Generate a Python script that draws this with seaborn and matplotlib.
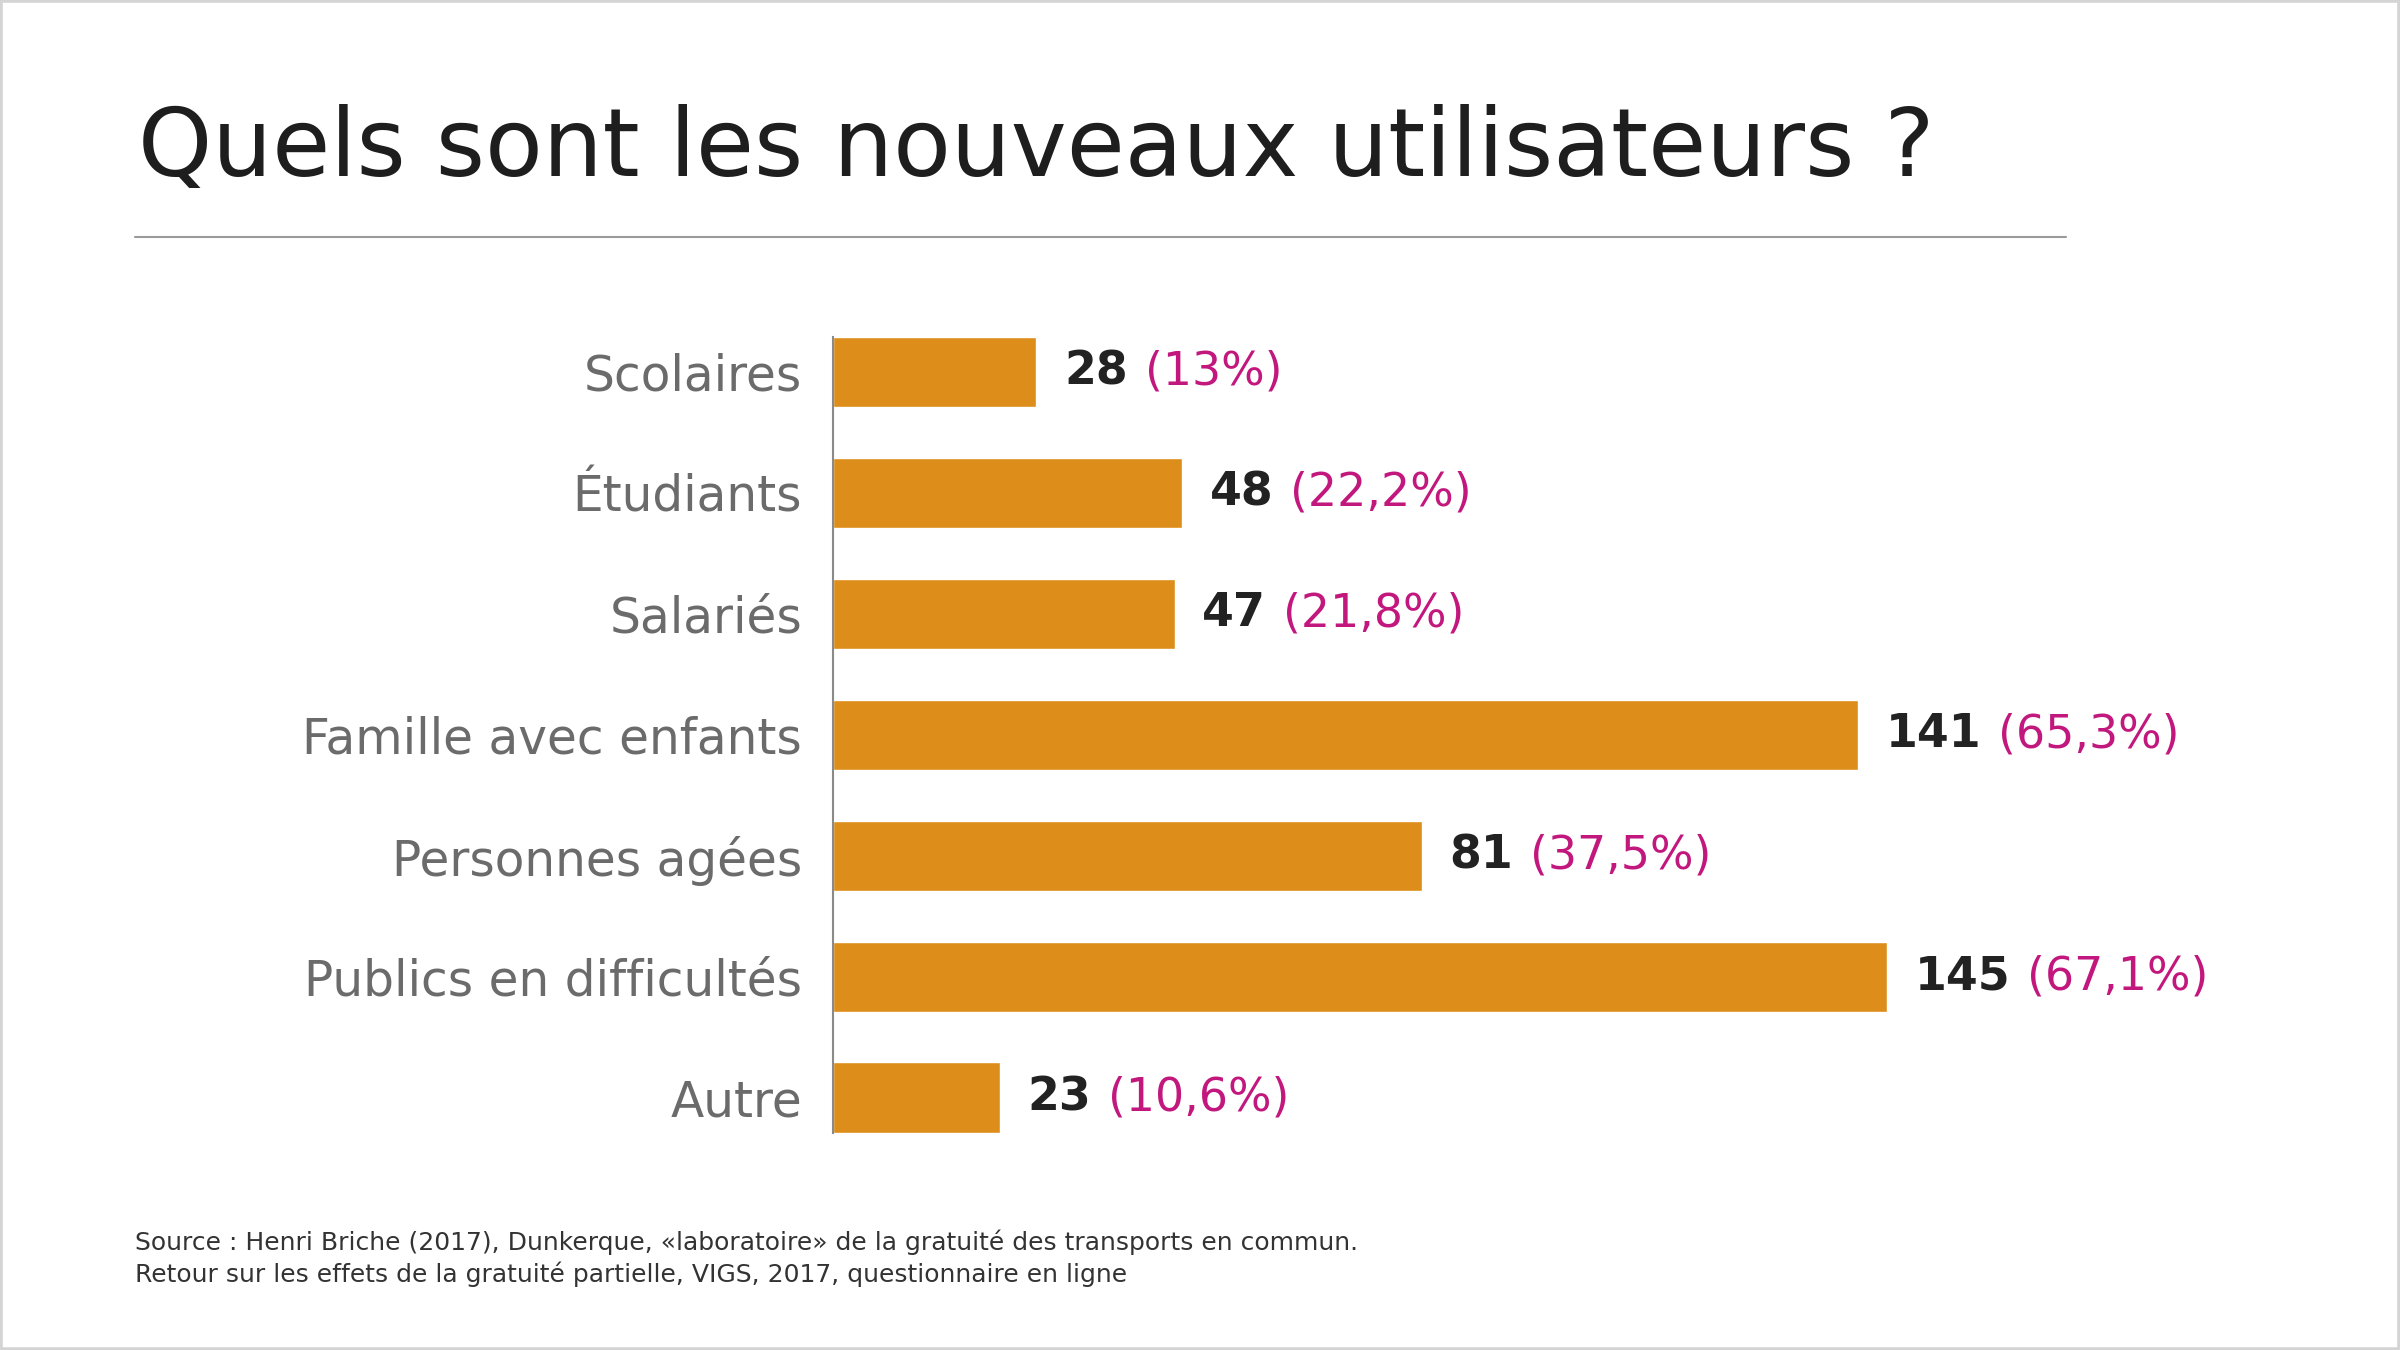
import matplotlib
matplotlib.use('Agg')
import matplotlib.pyplot as plt
import seaborn as sns
from matplotlib.patches import Rectangle
from matplotlib.lines import Line2D

categories = ['Scolaires', 'Étudiants', 'Salariés', 'Famille avec enfants',
              'Personnes agées', 'Publics en difficultés', 'Autre']
counts = [28, 48, 47, 141, 81, 145, 23]
percents = ['13%', '22,2%', '21,8%', '65,3%', '37,5%', '67,1%', '10,6%']

title = 'Quels sont les nouveaux utilisateurs ?'
source = ('Source : Henri Briche (2017), Dunkerque, «laboratoire» de la gratuité des transports en commun.\n'
          'Retour sur les effets de la gratuité partielle, VIGS, 2017, questionnaire en ligne')

sns.set_theme(style='white')
plt.rcParams['font.family'] = ['DejaVu Sans']

fig = plt.figure(figsize=(24, 13.5), dpi=100)
ax = fig.add_axes([0.347, 0.161, 0.606, 0.5896])

sns.barplot(x=counts, y=categories, orient='h', color='#DD8D19',
            saturation=1, width=0.58, ax=ax)

ax.set_xlim(0, 200)
ax.set_ylim(6.29, -0.29)
ax.set_xticks([])
ax.set_xlabel('')
ax.set_ylabel('')
for side in ['top', 'right', 'bottom']:
    ax.spines[side].set_visible(False)
ax.spines['left'].set_color('#8a8a8a')
ax.spines['left'].set_linewidth(1.5)
ax.tick_params(axis='y', length=0, pad=22, labelsize=35, labelcolor='#6b6b6b')

# nombre en noir, pourcentage en magenta juste après
for i, (c, p) in enumerate(zip(counts, percents)):
    num = ax.annotate(str(c), xy=(c, i), xytext=(20, 0), textcoords='offset points',
                      va='center', ha='left', fontsize=33, fontweight='bold', color='#222222')
    ax.annotate('(' + p + ')', xy=(1, 0), xycoords=num, xytext=(12, 0),
                textcoords='offset points', va='bottom', ha='left',
                fontsize=33, color='#C2187E')

fig.text(0.0575, 0.8696, title, fontsize=68, color='#1e1e1e', va='baseline', ha='left')
fig.add_artist(Line2D([0.0563, 0.861], [0.8244, 0.8244], transform=fig.transFigure,
                      color='#9a9a9a', lw=1.5))
fig.text(0.0563, 0.0895, source, fontsize=18, color='#333333', va='top', ha='left',
         linespacing=1.35)
fig.add_artist(Rectangle((0, 0), 1, 1, transform=fig.transFigure, fill=False,
                         edgecolor='#d4d4d4', lw=4))

fig.savefig('out.png', dpi=100, facecolor='white')
